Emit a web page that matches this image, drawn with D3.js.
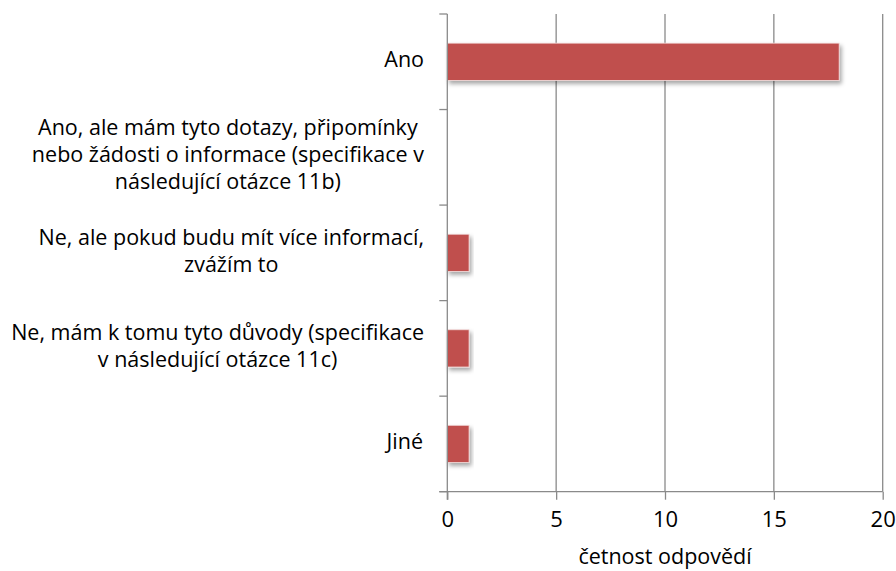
<!DOCTYPE html>
<html>
<head>
<meta charset="utf-8">
<script src="https://cdn.jsdelivr.net/npm/d3@7"></script>
<style>
  body { margin: 0; background: #fff; }
  text { font-family: "Open Sans", sans-serif; fill: #000; }
</style>
</head>
<body>
<div id="chart"></div>
<script>
// categories, line breaks as they appear in the chart
var categories = [
    "Ano",
    "Ano, ale mám tyto dotazy, připomínky\nnebo žádosti o informace (specifikace v\nnásledující otázce 11b)",
    "Ne, ale pokud budu mít více informací,\nzvážím to",
    "Ne, mám k tomu tyto důvody (specifikace\nv následující otázce 11c)",
    "Jiné"
];
var values = [18, 0, 1, 1, 1];
var xTicks = [0, 5, 10, 15, 20];
var xTitle = "četnost odpovědí";

var chartWidth = 896,
    chartHeight = 571,
    plotLeft = 447.3,
    plotRight = 882.7,
    plotTop = 14,
    plotBottom = 491.7;

var svg = d3.select("#chart").append("svg")
    .attr("width", chartWidth)
    .attr("height", chartHeight);

var defs = svg.append("defs");
var shadow = defs.append("filter")
    .attr("id", "shadow")
    .attr("x", "-10%").attr("y", "-20%")
    .attr("width", "130%").attr("height", "160%");
shadow.append("feDropShadow")
    .attr("dx", 2).attr("dy", 3)
    .attr("stdDeviation", 2)
    .attr("flood-color", "#000")
    .attr("flood-opacity", 0.35);

var x = d3.scaleLinear()
    .domain([0, 20])
    .range([plotLeft, plotRight]);

var y = d3.scaleBand()
    .domain(categories)
    .range([plotTop, plotBottom])
    .paddingInner(0.61)
    .paddingOuter(0.305);

// vertical gridlines
svg.append("g")
    .selectAll("line")
    .data(xTicks.slice(1))
    .enter().append("line")
    .attr("x1", function (d) { return x(d); })
    .attr("x2", function (d) { return x(d); })
    .attr("y1", plotTop)
    .attr("y2", plotBottom)
    .attr("stroke", "#8a8a8a")
    .attr("stroke-width", 1.3);

// bars
var barData = categories.map(function (c, i) { return { cat: c, value: values[i] }; })
    .filter(function (d) { return d.value > 0; });

svg.append("g")
    .selectAll("rect")
    .data(barData)
    .enter().append("rect")
    .attr("x", x(0))
    .attr("y", function (d) { return y(d.cat); })
    .attr("width", function (d) { return x(d.value) - x(0); })
    .attr("height", y.bandwidth())
    .attr("fill", "#c0504d")
    .attr("stroke", "#f2dcdb")
    .attr("stroke-width", 0.8)
    .attr("filter", "url(#shadow)");

// x axis
var xAxis = d3.axisBottom(x)
    .tickValues(xTicks)
    .tickSize(8)
    .tickPadding(12);

var gx = svg.append("g")
    .attr("transform", "translate(0," + plotBottom + ")")
    .call(xAxis);
gx.select(".domain").remove();
gx.append("line")
    .attr("x1", plotLeft - 8).attr("x2", plotRight)
    .attr("stroke", "#8a8a8a").attr("stroke-width", 1.3);
gx.selectAll(".tick line").attr("stroke", "#8a8a8a").attr("stroke-width", 1.3);
gx.selectAll(".tick text")
    .style("font-size", "22px")
    .style("font-family", "'Open Sans', sans-serif")
    .attr("fill", "#000");

// y axis with ticks at band boundaries
var bounds = categories.map(function (c) { return y(c) + y.bandwidth() / 2 - y.step() / 2; });
bounds.push(y(categories[categories.length - 1]) + y.bandwidth() / 2 + y.step() / 2);

var gy = svg.append("g");
gy.append("line")
    .attr("x1", plotLeft).attr("x2", plotLeft)
    .attr("y1", plotTop).attr("y2", plotBottom + 8)
    .attr("stroke", "#8a8a8a").attr("stroke-width", 1.3);
gy.selectAll(".ytick")
    .data(bounds)
    .enter().append("line")
    .attr("class", "ytick")
    .attr("x1", plotLeft - 8).attr("x2", plotLeft)
    .attr("y1", function (d) { return d; })
    .attr("y2", function (d) { return d; })
    .attr("stroke", "#8a8a8a").attr("stroke-width", 1.3);

// category labels: centred lines, block right-aligned near the axis
var lineH = 27;
var labelRight = 424;
categories.forEach(function (c) {
    var lines = c.split("\n");
    var cy = y(c) + y.bandwidth() / 2;
    var t = svg.append("text")
        .style("font-size", "21.5px")
        .attr("text-anchor", "middle");
    lines.forEach(function (l, i) {
        t.append("tspan")
            .attr("x", 0)
            .attr("y", cy + (i - (lines.length - 1) / 2) * lineH)
            .attr("dy", "0.24em")
            .text(l);
    });
    var w = t.node().getBBox().width;
    t.attr("transform", "translate(" + (labelRight - w / 2) + ",0)");
});

// axis title
svg.append("text")
    .attr("x", (plotLeft + plotRight) / 2)
    .attr("y", 564)
    .attr("text-anchor", "middle")
    .style("font-size", "21.5px")
    .text(xTitle);
</script>
</body>
</html>
